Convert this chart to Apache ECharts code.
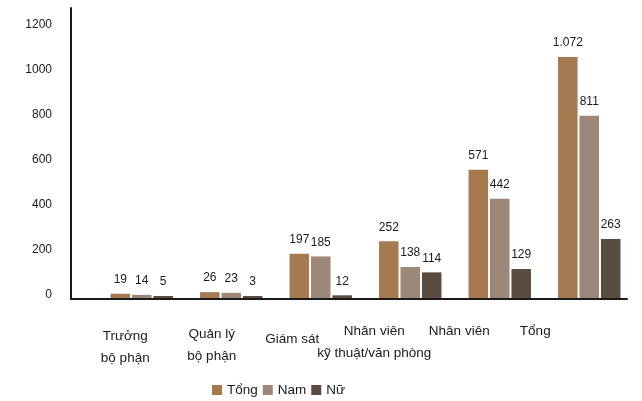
<!DOCTYPE html>
<html>
<head>
<meta charset="utf-8">
<script src="https://cdn.jsdelivr.net/npm/echarts@6/dist/echarts.min.js"></script>
<style>
  html, body { margin: 0; padding: 0; background: #fff; }
  #chart { width: 642px; height: 401px; }
</style>
</head>
<body>
<div id="chart"></div>
<script>
// Staff headcount by position, split by gender
const categories = [
  'Trưởng\nbộ phận',
  'Quản lý\nbộ phận',
  'Giám sát',
  'Nhân viên\nkỹ thuật/văn phòng',
  'Nhân viên',
  'Tổng'
];
const seriesNames = ['Tổng', 'Nam', 'Nữ'];
const totalValues = [19, 26, 197, 252, 571, 1072];
const maleValues = [14, 23, 185, 138, 442, 811];
const femaleValues = [5, 3, 12, 114, 129, 263];
const yTicks = [0, 200, 400, 600, 800, 1000, 1200];

// Per-category label nudges: [top padding, right padding]
const labelShift = [[5, 33], [3, 39], [8, 57], [0, 72], [0, 81], [0, 108]];

const colors = ['#A67A50', '#9C8779', '#5B4A40'];
const FONT = '"Liberation Sans", Arial, sans-serif';
const TEXT = '#1a1a1a';
const Y_MAX = 1290;

const fmt = v => String(v).replace(/\B(?=(\d{3})+(?!\d))/g, '.');

const chart = echarts.init(document.getElementById('chart'), null, { renderer: 'canvas' });

const valueSets = [totalValues, maleValues, femaleValues];

chart.setOption({
  animation: false,
  backgroundColor: '#ffffff',
  legend: {
    data: seriesNames,
    icon: 'rect',
    itemWidth: 10,
    itemHeight: 10,
    itemGap: 5,
    padding: 0,
    left: 212,
    top: 383,
    textStyle: { fontFamily: FONT, fontSize: 13.5, color: TEXT }
  },
  grid: [
    // frame with the visible axes (baseline sits just under the bars)
    { left: 71, right: 15, top: 8, bottom: 102, outerBoundsMode: 'none' },
    // plotting band for the bar groups
    { left: 97, right: 8, top: 8, bottom: 103, outerBoundsMode: 'none' }
  ],
  xAxis: [
    {
      gridIndex: 0,
      type: 'value',
      min: 0,
      max: 1,
      axisLine: { show: true, onZero: false, lineStyle: { color: '#1a1a1a', width: 2 } },
      axisTick: { show: false },
      axisLabel: { show: false },
      splitLine: { show: false }
    },
    {
      gridIndex: 1,
      type: 'category',
      data: categories.map((c, i) => ({
        value: c,
        textStyle: { padding: [labelShift[i][0], labelShift[i][1], 0, 0] }
      })),
      axisLine: { show: false },
      axisTick: { show: false },
      axisLabel: {
        interval: 0,
        margin: 22,
        fontFamily: FONT,
        fontSize: 13.5,
        lineHeight: 22,
        color: TEXT
      }
    }
  ],
  yAxis: [
    {
      gridIndex: 0,
      type: 'value',
      min: 0,
      max: Y_MAX,
      interval: 200,
      axisLine: { show: true, lineStyle: { color: '#1a1a1a', width: 2 } },
      axisTick: { show: false },
      splitLine: { show: false },
      axisLabel: {
        margin: 19,
        fontFamily: FONT,
        fontSize: 12,
        color: TEXT,
        verticalAlign: 'bottom',
        lineHeight: 8,
        formatter: v => (yTicks.indexOf(v) >= 0 ? String(v) : '')
      }
    },
    {
      gridIndex: 1,
      type: 'value',
      min: 0,
      max: Y_MAX,
      show: false,
      splitLine: { show: false }
    }
  ],
  series: seriesNames.map((name, k) => ({
    name: name,
    type: 'bar',
    xAxisIndex: 1,
    yAxisIndex: 1,
    data: valueSets[k],
    barWidth: 19.5,
    barGap: '10%',
    barMinHeight: 2,
    itemStyle: { color: colors[k] },
    label: {
      show: true,
      position: 'top',
      distance: 8,
      fontFamily: FONT,
      fontSize: 12,
      color: TEXT,
      formatter: p => fmt(p.value)
    }
  }))
});
</script>
</body>
</html>
